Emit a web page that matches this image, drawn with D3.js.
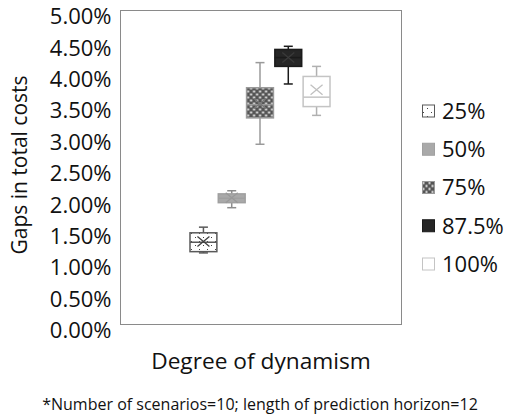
<!DOCTYPE html>
<html>
<head>
<meta charset="utf-8">
<script src="https://cdn.jsdelivr.net/npm/d3@7"></script>
<style>
  html, body { margin: 0; padding: 0; background: #fff; }
  svg { display: block; font-family: "Open Sans", Lato, sans-serif; }
</style>
</head>
<body>
<svg id="chart" width="505" height="417"></svg>
<script>
// Series (degree of dynamism) and their five-number summaries + mean, in percent
const series = ["25%", "50%", "75%", "87.5%", "100%"];
const whiskerLow  = [1.14, 1.86, 2.87, 3.83, 3.33];
const quartile1   = [1.16, 1.94, 3.29, 4.11, 3.47];
const medians     = [1.31, 2.01, 3.50, 4.25, 3.62];
const quartile3   = [1.46, 2.08, 3.77, 4.38, 3.95];
const whiskerHigh = [1.55, 2.13, 4.17, 4.43, 4.11];
const means       = [1.32, 2.02, 3.52, 4.25, 3.74];
const yTicks = [0, 0.5, 1, 1.5, 2, 2.5, 3, 3.5, 4, 4.5, 5];

const svg = d3.select("#chart");

// Fill patterns
const defs = svg.append("defs");
const dots = defs.append("pattern").attr("id", "pDots")
  .attr("patternUnits", "userSpaceOnUse").attr("width", 8).attr("height", 8);
dots.append("rect").attr("width", 8).attr("height", 8).attr("fill", "#fff");
[[1, 1], [5, 5]].forEach(([x, y]) =>
  dots.append("rect").attr("x", x).attr("y", y).attr("width", 1).attr("height", 1).attr("fill", "#444"));

const checks = defs.append("pattern").attr("id", "pChecks")
  .attr("patternUnits", "userSpaceOnUse").attr("width", 6).attr("height", 6);
checks.append("rect").attr("width", 6).attr("height", 6).attr("fill", "#555");
[[0, 0], [3, 3]].forEach(([x, y]) =>
  checks.append("rect").attr("x", x + 0.5).attr("y", y + 0.5).attr("width", 2).attr("height", 2).attr("fill", "#eee"));

const styles = {
  "25%":   { fill: "url(#pDots)",   stroke: "#595959", whisk: "#595959", mean: "#404040" },
  "50%":   { fill: "#a9a9a9",       stroke: "#a0a0a0", whisk: "#8c8c8c", mean: "#999" },
  "75%":   { fill: "url(#pChecks)", stroke: "#9a9a9a", whisk: "#9a9a9a", mean: "#777" },
  "87.5%": { fill: "#262626",       stroke: "#1a1a1a", whisk: "#1a1a1a", mean: "#3a3a3a" },
  "100%":  { fill: "#ffffff",       stroke: "#c4c4c4", whisk: "#b0b0b0", mean: "#c0c0c0" }
};

// Plot area
const plot = { left: 120.5, right: 401.5, top: 10.5, bottom: 324.5 };

const y = d3.scaleLinear().domain([0, 5]).range([plot.bottom, plot.top]);
const x = d3.scaleBand().domain(series).range([190, 330]).paddingInner(0.05).paddingOuter(0);

svg.append("rect")
  .attr("x", plot.left).attr("y", plot.top)
  .attr("width", plot.right - plot.left).attr("height", plot.bottom - plot.top)
  .attr("fill", "none").attr("stroke", "#8a8a8a").attr("stroke-width", 1);

// Y axis labels only (no tick marks, no domain line)
const yAxis = d3.axisLeft(y).tickValues(yTicks).tickSize(0).tickPadding(9)
  .tickFormat(d => d.toFixed(2) + "%");
const gy = svg.append("g").attr("transform", `translate(${plot.left},0)`).call(yAxis);
gy.select(".domain").remove();
gy.selectAll("text").attr("font-size", 22).attr("fill", "#111")
  .attr("font-family", "'Open Sans', sans-serif").attr("dy", "0.6em");

// Boxes
const rows = series.map((s, i) => ({
  s, lo: whiskerLow[i], q1: quartile1[i], med: medians[i], q3: quartile3[i], hi: whiskerHigh[i], mean: means[i]
}));
const bw = x.bandwidth();
const g = svg.append("g").selectAll("g").data(rows).join("g")
  .attr("transform", d => `translate(${x(d.s)},0)`);

const cx = bw / 2, cap = 4.5;
g.append("line").attr("x1", cx).attr("x2", cx).attr("y1", d => y(d.hi)).attr("y2", d => y(d.q3))
  .attr("stroke", d => styles[d.s].whisk).attr("stroke-width", 1.5);
g.append("line").attr("x1", cx).attr("x2", cx).attr("y1", d => y(d.q1)).attr("y2", d => y(d.lo))
  .attr("stroke", d => styles[d.s].whisk).attr("stroke-width", 1.5);
g.append("line").attr("x1", cx - cap).attr("x2", cx + cap).attr("y1", d => y(d.hi)).attr("y2", d => y(d.hi))
  .attr("stroke", d => styles[d.s].whisk).attr("stroke-width", 1.5);
g.append("line").attr("x1", cx - cap).attr("x2", cx + cap).attr("y1", d => y(d.lo)).attr("y2", d => y(d.lo))
  .attr("stroke", d => styles[d.s].whisk).attr("stroke-width", 1.5);
g.append("rect").attr("x", 0).attr("width", bw)
  .attr("y", d => y(d.q3)).attr("height", d => y(d.q1) - y(d.q3))
  .attr("fill", d => styles[d.s].fill).attr("stroke", d => styles[d.s].stroke).attr("stroke-width", 1.5);
g.append("line").attr("x1", 0).attr("x2", bw).attr("y1", d => y(d.med)).attr("y2", d => y(d.med))
  .attr("stroke", d => styles[d.s].stroke).attr("stroke-width", 1.5);
// Mean marker (x)
g.append("path")
  .attr("d", d => { const m = y(d.mean), hw = 6, hh = 5;
    return `M${cx - hw},${m - hh}L${cx + hw},${m + hh}M${cx - hw},${m + hh}L${cx + hw},${m - hh}`; })
  .attr("stroke", d => styles[d.s].mean).attr("stroke-width", 1.3).attr("fill", "none");

// Legend
const legendY = d3.scalePoint().domain(series).range([111, 264]);
const lg = svg.append("g").selectAll("g").data(series).join("g")
  .attr("transform", s => `translate(422,${legendY(s)})`);
lg.append("rect").attr("x", 0.5).attr("y", -6).attr("width", 12).attr("height", 12)
  .attr("fill", s => styles[s].fill).attr("stroke", s => styles[s].stroke).attr("stroke-width", 1);
lg.append("text").attr("x", 20).attr("y", 0).attr("dy", "0.36em")
  .attr("font-size", 22).attr("fill", "#111").text(s => s);

// Axis titles and note
svg.append("text").attr("transform", "translate(27,165) rotate(-90)")
  .attr("text-anchor", "middle").attr("font-size", 21).attr("fill", "#111")
  .text("Gaps in total costs");
svg.append("text").attr("x", 261).attr("y", 369).attr("text-anchor", "middle")
  .attr("font-size", 22.7).attr("fill", "#111").text("Degree of dynamism");
svg.append("text").attr("x", 260).attr("y", 410).attr("text-anchor", "middle")
  .attr("font-size", 16).attr("fill", "#111")
  .text("*Number of scenarios=10; length of prediction horizon=12");
</script>
</body>
</html>
